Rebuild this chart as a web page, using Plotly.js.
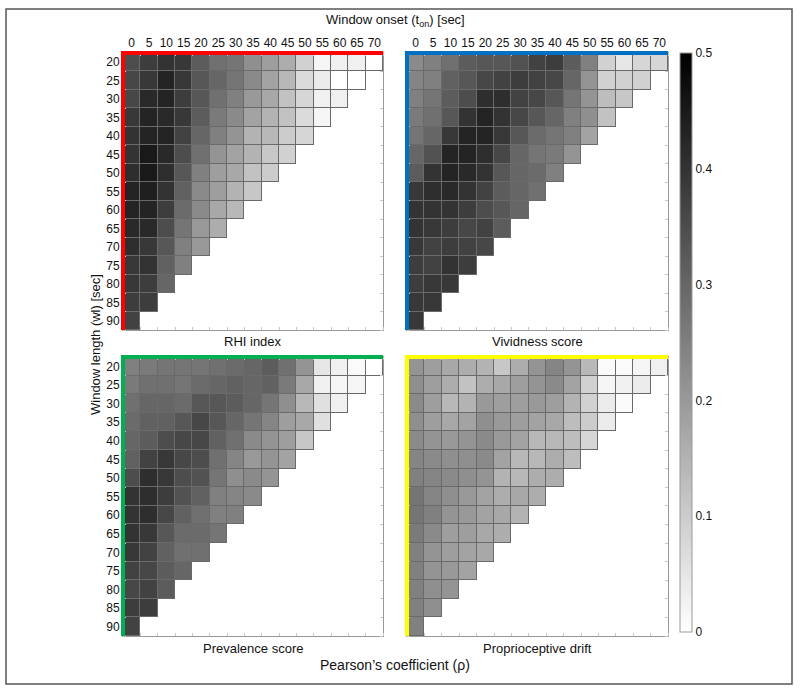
<!DOCTYPE html>
<html>
<head>
<meta charset="utf-8">
<script src="https://cdn.plot.ly/plotly-3.0.1.min.js"></script>
<style>
  html, body { margin: 0; padding: 0; background: #fff; }
  #chart { width: 800px; height: 693px; }
</style>
</head>
<body>
<div id="chart"></div>
<script>
// x: window onset [sec], y: window length [sec]
var windowOnset = [0, 5, 10, 15, 20, 25, 30, 35, 40, 45, 50, 55, 60, 65, 70];
var windowLength = [20, 25, 30, 35, 40, 45, 50, 55, 60, 65, 70, 75, 80, 85, 90];

// Pearson's rho, one row per window length (rows get shorter as wl grows)
var rhiIndex = [
    [0.35, 0.38, 0.40, 0.39, 0.32, 0.28, 0.27, 0.22, 0.19, 0.16, 0.09, 0.02, 0.03, 0.03, 0.00],
    [0.36, 0.39, 0.43, 0.39, 0.33, 0.30, 0.27, 0.23, 0.18, 0.14, 0.07, 0.04, 0.00, 0.00],
    [0.36, 0.42, 0.43, 0.38, 0.33, 0.28, 0.25, 0.20, 0.17, 0.12, 0.08, 0.03, 0.03],
    [0.39, 0.43, 0.42, 0.39, 0.32, 0.26, 0.23, 0.18, 0.15, 0.12, 0.07, 0.02],
    [0.40, 0.43, 0.43, 0.37, 0.30, 0.25, 0.21, 0.15, 0.14, 0.10, 0.08],
    [0.40, 0.45, 0.42, 0.35, 0.28, 0.21, 0.18, 0.15, 0.11, 0.09],
    [0.41, 0.45, 0.41, 0.33, 0.25, 0.19, 0.17, 0.12, 0.10],
    [0.43, 0.44, 0.40, 0.31, 0.23, 0.19, 0.15, 0.11],
    [0.43, 0.43, 0.38, 0.29, 0.23, 0.17, 0.14],
    [0.42, 0.42, 0.35, 0.27, 0.20, 0.16],
    [0.41, 0.39, 0.33, 0.25, 0.20],
    [0.39, 0.40, 0.31, 0.25],
    [0.39, 0.38, 0.30],
    [0.38, 0.38],
    [0.37]
];

var vividnessScore = [
    [0.23, 0.25, 0.28, 0.32, 0.33, 0.33, 0.34, 0.37, 0.38, 0.32, 0.25, 0.09, 0.05, 0.08, 0.08],
    [0.24, 0.25, 0.31, 0.33, 0.36, 0.37, 0.38, 0.37, 0.36, 0.30, 0.21, 0.09, 0.09, 0.09],
    [0.25, 0.27, 0.32, 0.35, 0.41, 0.41, 0.37, 0.36, 0.33, 0.27, 0.21, 0.13, 0.11],
    [0.26, 0.28, 0.33, 0.40, 0.43, 0.40, 0.36, 0.33, 0.30, 0.25, 0.22, 0.12],
    [0.27, 0.30, 0.39, 0.43, 0.43, 0.39, 0.33, 0.29, 0.27, 0.25, 0.18],
    [0.30, 0.34, 0.43, 0.43, 0.41, 0.36, 0.30, 0.27, 0.26, 0.21],
    [0.32, 0.40, 0.43, 0.42, 0.40, 0.33, 0.30, 0.29, 0.25],
    [0.39, 0.41, 0.42, 0.40, 0.37, 0.32, 0.30, 0.28],
    [0.40, 0.40, 0.40, 0.38, 0.35, 0.33, 0.30],
    [0.40, 0.39, 0.38, 0.36, 0.37, 0.32],
    [0.39, 0.37, 0.38, 0.37, 0.36],
    [0.38, 0.37, 0.40, 0.38],
    [0.38, 0.39, 0.39],
    [0.39, 0.39],
    [0.39]
];

var prevalenceScore = [
    [0.25, 0.26, 0.27, 0.27, 0.27, 0.28, 0.29, 0.30, 0.32, 0.28, 0.21, 0.05, 0.03, 0.01, 0.00],
    [0.26, 0.28, 0.28, 0.27, 0.29, 0.30, 0.31, 0.30, 0.31, 0.26, 0.17, 0.03, 0.02, 0.02],
    [0.28, 0.30, 0.30, 0.29, 0.33, 0.33, 0.32, 0.30, 0.27, 0.22, 0.14, 0.06, 0.03],
    [0.29, 0.31, 0.31, 0.33, 0.36, 0.33, 0.30, 0.27, 0.24, 0.19, 0.17, 0.06],
    [0.30, 0.32, 0.35, 0.36, 0.36, 0.31, 0.28, 0.23, 0.21, 0.19, 0.11],
    [0.31, 0.37, 0.39, 0.36, 0.35, 0.28, 0.24, 0.20, 0.21, 0.18],
    [0.35, 0.41, 0.39, 0.35, 0.34, 0.27, 0.22, 0.23, 0.21],
    [0.40, 0.41, 0.38, 0.34, 0.31, 0.25, 0.24, 0.23],
    [0.40, 0.41, 0.36, 0.31, 0.28, 0.25, 0.25],
    [0.40, 0.39, 0.33, 0.29, 0.29, 0.27],
    [0.39, 0.37, 0.31, 0.28, 0.28],
    [0.37, 0.36, 0.32, 0.30],
    [0.36, 0.37, 0.32],
    [0.38, 0.38],
    [0.37]
];

var proprioceptiveDrift = [
    [0.21, 0.19, 0.17, 0.16, 0.15, 0.11, 0.16, 0.21, 0.24, 0.21, 0.14, 0.01, 0.01, 0.02, 0.03],
    [0.22, 0.19, 0.16, 0.12, 0.16, 0.17, 0.19, 0.21, 0.23, 0.18, 0.09, 0.02, 0.03, 0.04],
    [0.23, 0.19, 0.14, 0.15, 0.20, 0.19, 0.19, 0.20, 0.19, 0.15, 0.09, 0.04, 0.01],
    [0.22, 0.19, 0.17, 0.18, 0.22, 0.20, 0.19, 0.18, 0.17, 0.13, 0.10, 0.04],
    [0.23, 0.21, 0.20, 0.21, 0.23, 0.20, 0.18, 0.14, 0.14, 0.13, 0.08],
    [0.24, 0.23, 0.22, 0.22, 0.23, 0.18, 0.14, 0.14, 0.16, 0.13],
    [0.25, 0.24, 0.23, 0.22, 0.21, 0.15, 0.14, 0.16, 0.16],
    [0.27, 0.24, 0.22, 0.20, 0.18, 0.16, 0.17, 0.16],
    [0.27, 0.25, 0.21, 0.20, 0.18, 0.17, 0.15],
    [0.26, 0.23, 0.19, 0.19, 0.17, 0.16],
    [0.25, 0.21, 0.19, 0.18, 0.17],
    [0.25, 0.21, 0.20, 0.18],
    [0.25, 0.22, 0.21],
    [0.25, 0.22],
    [0.25]
];

var panelTitles = ['RHI index', 'Vividness score', 'Prevalence score', 'Proprioceptive drift'];
var panelData = [rhiIndex, vividnessScore, prevalenceScore, proprioceptiveDrift];
var edgeColors = ['#ff0000', '#0070c0', '#00b050', '#ffff00'];

// pad the triangular rows out to a full matrix
function toMatrix(rows) {
    return rows.map(function (r) {
        return windowOnset.map(function (_, j) { return j < r.length ? r[j] : null; });
    });
}
// same cells, constant value -> shows through the gaps as cell outlines
function outlineMatrix(rows) {
    return rows.map(function (r) {
        return windowOnset.map(function (_, j) { return j < r.length ? 1 : null; });
    });
}

var font = 'Liberation Sans, Arial, sans-serif';
var narrow = 'Liberation Sans Narrow, Arial Narrow, Liberation Sans, sans-serif';

// panel boxes, in pixels of the 800x693 page
var W = 800, H = 693;
var colsPx = [[123, 383], [407, 668]];
var rowsPx = [[53, 330], [357, 636]];

var data = [];
var layout = {
    width: W,
    height: H,
    margin: {l: 0, r: 0, t: 0, b: 0},
    paper_bgcolor: '#fff',
    plot_bgcolor: '#fff',
    showlegend: false,
    font: {family: font, size: 12, color: '#111'},
    shapes: [],
    annotations: []
};

panelData.forEach(function (rows, k) {
    var n = k + 1;
    var sfx = n === 1 ? '' : String(n);
    var col = k % 2, row = Math.floor(k / 2);
    var xd = [colsPx[col][0] / W, colsPx[col][1] / W];
    var yd = [1 - rowsPx[row][1] / H, 1 - rowsPx[row][0] / H];

    data.push({
        type: 'heatmap',
        x: windowOnset,
        y: windowLength,
        z: outlineMatrix(rows),
        xaxis: 'x' + sfx,
        yaxis: 'y' + sfx,
        colorscale: [[0, '#6a6a6a'], [1, '#6a6a6a']],
        showscale: false,
        hoverinfo: 'skip'
    });

    var tr = {
        type: 'heatmap',
        x: windowOnset,
        y: windowLength,
        z: toMatrix(rows),
        xaxis: 'x' + sfx,
        yaxis: 'y' + sfx,
        xgap: 1,
        ygap: 1,
        zmin: 0,
        zmax: 0.5,
        colorscale: [[0, '#ffffff'], [1, '#000000']],
        showscale: k === 0
    };
    if (k === 0) {
        tr.colorbar = {
            x: 680 / W,
            xanchor: 'left',
            y: 1 - 53 / H,
            yanchor: 'top',
            len: (632 - 53) / H,
            lenmode: 'fraction',
            thickness: 12,
            xpad: 0,
            ypad: 0,
            outlinecolor: '#999',
            outlinewidth: 1,
            tickvals: [0, 0.1, 0.2, 0.3, 0.4, 0.5],
            ticktext: ['0', '0.1', '0.2', '0.3', '0.4', '0.5'],
            ticks: '',
            ticklabelpad: 4,
            tickfont: {family: font, size: 12, color: '#111'}
        };
    }
    data.push(tr);

    layout['xaxis' + sfx] = {
        domain: xd,
        anchor: 'y' + sfx,
        side: 'top',
        range: [-2.5, 72.5],
        tickvals: windowOnset,
        showticklabels: row === 0,
        ticks: '',
        tickfont: {family: narrow, size: 12, color: '#111'},
        showgrid: false,
        zeroline: false,
        showline: true,
        linecolor: '#999',
        linewidth: 1,
        mirror: 'ticks',
        minor: {tick0: 2.5, dtick: 5, ticks: 'inside', ticklen: 3, tickcolor: '#c8c8c8', showgrid: false},
        fixedrange: true
    };
    layout['yaxis' + sfx] = {
        domain: yd,
        anchor: 'x' + sfx,
        range: [92.5, 17.5],
        tickvals: windowLength,
        showticklabels: col === 0,
        ticks: '',
        tickfont: {family: narrow, size: 12, color: '#111'},
        showgrid: false,
        zeroline: false,
        showline: true,
        linecolor: '#999',
        linewidth: 1,
        mirror: 'ticks',
        minor: {tick0: 17.5, dtick: 5, ticks: 'inside', ticklen: 3, tickcolor: '#c8c8c8', showgrid: false},
        fixedrange: true
    };

    // coloured edges along the top and left of each panel
    layout.shapes.push({
        type: 'line', xref: 'x' + sfx + ' domain', yref: 'y' + sfx + ' domain',
        x0: -0.008, x1: 1, y0: 1, y1: 1,
        line: {color: edgeColors[k], width: 4}
    });
    layout.shapes.push({
        type: 'line', xref: 'x' + sfx + ' domain', yref: 'y' + sfx + ' domain',
        x0: 0, x1: 0, y0: 0, y1: 1,
        line: {color: edgeColors[k], width: 4}
    });

    layout.annotations.push({
        text: panelTitles[k],
        xref: 'paper', yref: 'paper',
        x: (xd[0] + xd[1]) / 2,
        y: yd[0] - 12 / H,
        xanchor: 'center', yanchor: 'middle',
        showarrow: false,
        font: {family: font, size: 13, color: '#111'}
    });
});

layout.annotations.push({
    text: 'Window onset (t<sub>on</sub>) [sec]',
    xref: 'paper', yref: 'paper',
    x: 395 / W, y: 1 - 21 / H,
    xanchor: 'center', yanchor: 'middle',
    showarrow: false,
    font: {family: font, size: 13, color: '#111'}
});
layout.annotations.push({
    text: 'Window length (wl) [sec]',
    xref: 'paper', yref: 'paper',
    x: 95 / W, y: 1 - 345 / H,
    xanchor: 'center', yanchor: 'middle',
    textangle: -90,
    showarrow: false,
    font: {family: font, size: 13, color: '#111'}
});
layout.annotations.push({
    text: 'Pearson\u2019s coefficient (\u03c1)',
    xref: 'paper', yref: 'paper',
    x: 395 / W, y: 1 - 665 / H,
    xanchor: 'center', yanchor: 'middle',
    showarrow: false,
    font: {family: font, size: 14, color: '#111'}
});

// outer frame of the figure
layout.shapes.push({
    type: 'rect', xref: 'paper', yref: 'paper',
    x0: 6 / W, x1: 792 / W, y0: 1 - 684 / H, y1: 1 - 9 / H,
    line: {color: '#555', width: 1.5}
});

Plotly.newPlot('chart', data, layout, {displayModeBar: false, staticPlot: true});
</script>
</body>
</html>
